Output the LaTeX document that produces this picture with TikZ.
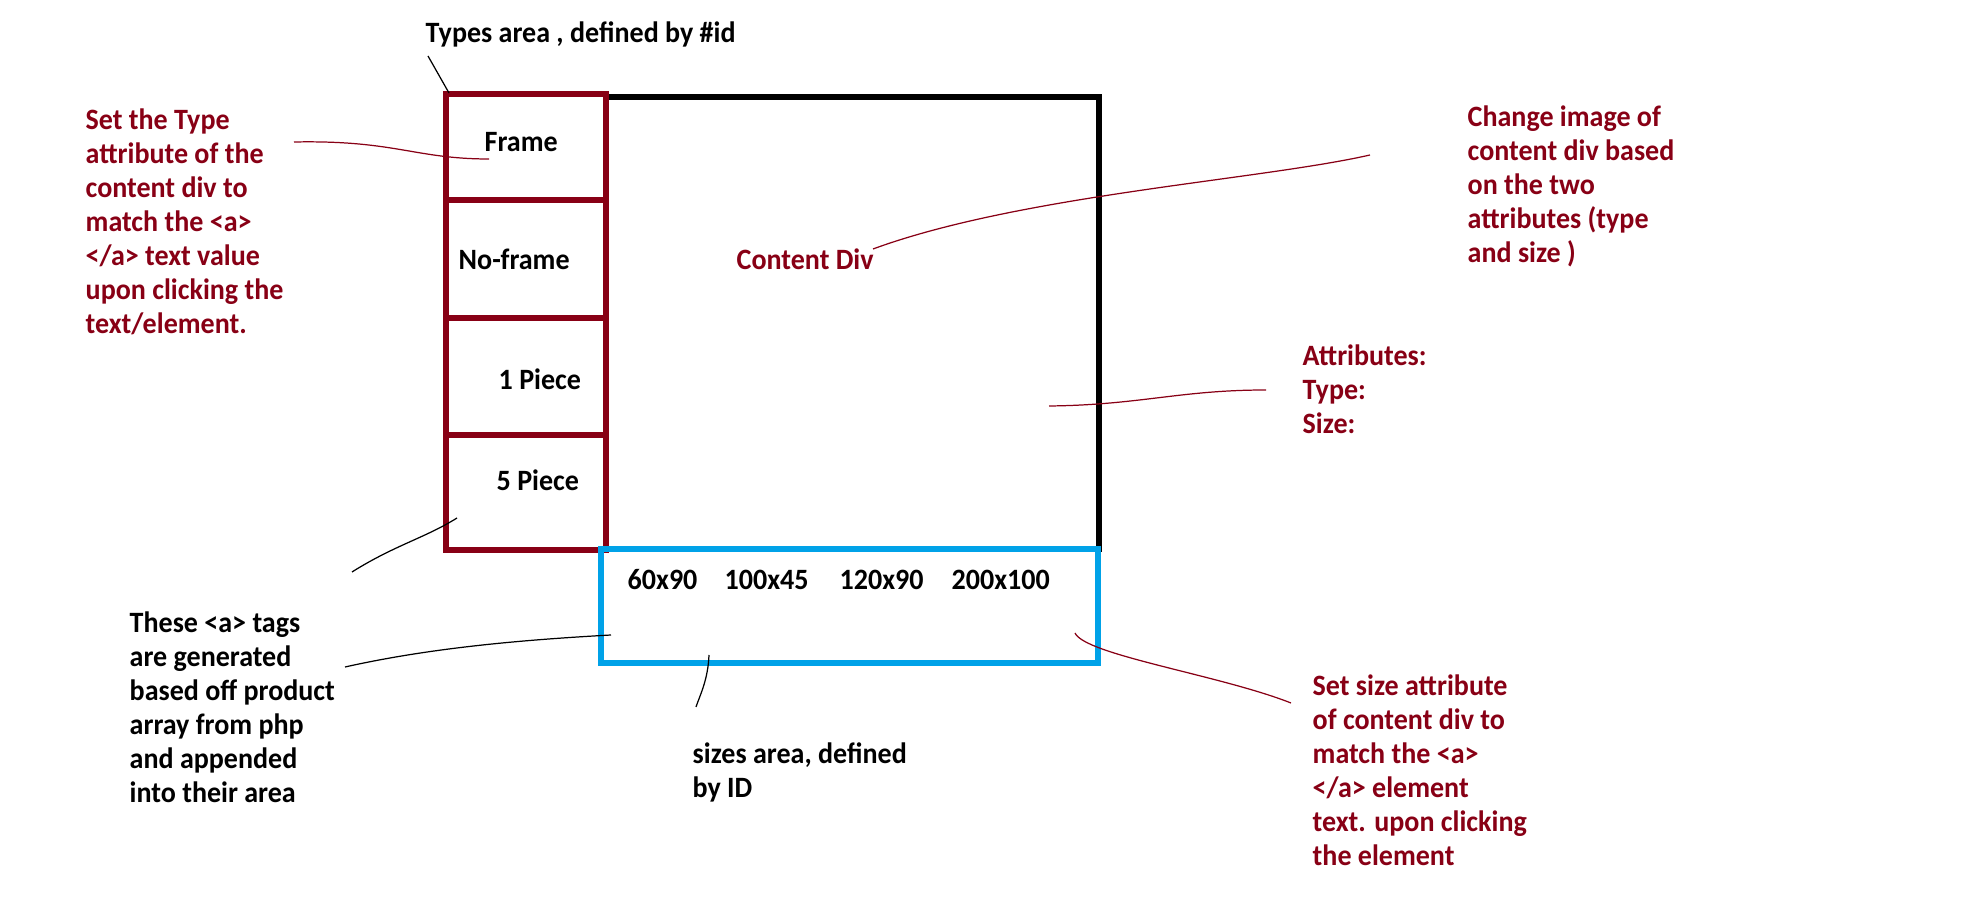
\documentclass[tikz,border=0pt]{standalone}
\usepackage{fontspec}
\setmainfont{Carlito}[FakeStretch=0.95]
\usepackage{xcolor}
\definecolor{paintRed}{HTML}{880015}
\definecolor{paintBlue}{HTML}{00A2E8}

\begin{document}
\begin{tikzpicture}[x=1cm,y=-1cm,
  note/.style={inner sep=0pt,anchor=base west,align=left,font=\fontsize{8.4}{9.7}\selectfont\bfseries},
  rednote/.style={note,text=paintRed},
  typecell/.style={draw=paintRed,line width=1.7pt,minimum width=1.6cm,inner sep=0pt,outer sep=0pt},
  leader/.style={line width=0.35pt}]
  \useasboundingbox (0,0) rectangle (19.85,9.10);
  % content area
  \node[draw=black,line width=1.8pt,minimum width=4.93cm,minimum height=4.52cm,outer sep=0pt,anchor=north west] (content) at (6.06,0.97) {};
  % types area
  \node[typecell,minimum height=1.06cm,anchor=north west] (frame) at (4.46,0.94) {};
  \node[typecell,minimum height=1.18cm,anchor=north west] (noframe) at (frame.south west) {};
  \node[typecell,minimum height=1.17cm,anchor=north west] (onepiece) at (noframe.south west) {};
  \node[typecell,minimum height=1.15cm,anchor=north west] (fivepiece) at (onepiece.south west) {};
  \node[note] (frameTxt) at (4.84,1.52) {Frame};
  \node[note] (noframeTxt) at (4.58,2.70) {No-frame};
  \node[note] (onepieceTxt) at (4.98,3.90) {1 Piece};
  \node[note] (fivepieceTxt) at (4.96,4.91) {5 Piece};
  % sizes area
  \node[draw=paintBlue,line width=1.6pt,minimum width=4.97cm,minimum height=1.14cm,outer sep=0pt,anchor=north west] (sizes) at (6.01,5.49) {};
  \node[note] (s60) at (6.27,5.90) {60x90};
  \node[note] (s100) at (7.24,5.90) {100x45};
  \node[note] (s120) at (8.39,5.90) {120x90};
  \node[note] (s200) at (9.51,5.90) {200x100};

  % annotations (base = last line)
  \node[note] (typesLbl) at (4.25,0.43) {Types area , defined by \#id};
  \node[rednote] (setType) at (0.85,3.34) {Set the Type\\attribute of the\\content div to\\match the <a>\\</a> text value\\upon clicking the\\text/element.};
  \node[rednote] (contentLbl) at (7.36,2.70) {Content Div};
  \node[rednote] (changeImg) at (14.67,2.63) {Change image of\\content div based\\on the two\\attributes (type\\and size )};
  \node[rednote] (attrs) at (13.02,4.34) {Attributes:\\Type:\\Size:};
  \node[note] (genTags) at (1.29,8.03) {These <a> tags\\are generated\\based off product\\array from php\\and appended\\into their area};
  \node[note] (sizesLbl) at (6.92,7.98) {sizes area, defined\\by ID};
  \node[rednote] (setSize) at (13.12,8.66) {Set size attribute\\of content div to\\match the <a>\\</a> element\\text. upon clicking\\the element};

  % leader ends
  \coordinate (typesTip) at (4.49,0.93);
  \coordinate (typesEnd) at (4.28,0.56);
  \coordinate (setTypeEnd) at (2.94,1.42);
  \coordinate (frameTip) at (4.89,1.59);
  \coordinate (contentTip) at (8.73,2.49);
  \coordinate (changeEnd) at (13.70,1.55);
  \coordinate (attrTip) at (10.49,4.06);
  \coordinate (attrEnd) at (12.66,3.90);
  \coordinate (pieceTip) at (4.57,5.18);
  \coordinate (pieceEnd) at (3.52,5.72);
  \coordinate (genEnd) at (3.45,6.67);
  \coordinate (sizesTip) at (6.11,6.35);
  \coordinate (areaTip) at (7.09,6.55);
  \coordinate (areaEnd) at (6.96,7.07);
  \coordinate (sizeTip) at (10.75,6.33);
  \coordinate (sizeEnd) at (12.91,7.03);

  \draw[leader] (typesEnd) -- (typesTip);
  \draw[leader,paintRed] (setTypeEnd) .. controls (3.95,1.40) and (4.15,1.59) .. (frameTip);
  \draw[leader,paintRed] (contentTip) .. controls (10.2,1.95) and (12.6,1.80) .. (changeEnd);
  \draw[leader,paintRed] (attrTip) .. controls (11.4,4.05) and (11.8,3.90) .. (attrEnd);
  \draw[leader] (pieceEnd) .. controls (3.95,5.45) and (4.25,5.38) .. (pieceTip);
  \draw[leader] (genEnd) .. controls (4.3,6.48) and (5.2,6.40) .. (sizesTip);
  \draw[leader] (areaTip) .. controls (7.08,6.80) and (7.00,6.95) .. (areaEnd);
  \draw[leader,paintRed] (sizeTip) .. controls (10.85,6.55) and (12.2,6.75) .. (sizeEnd);
\end{tikzpicture}
\end{document}
